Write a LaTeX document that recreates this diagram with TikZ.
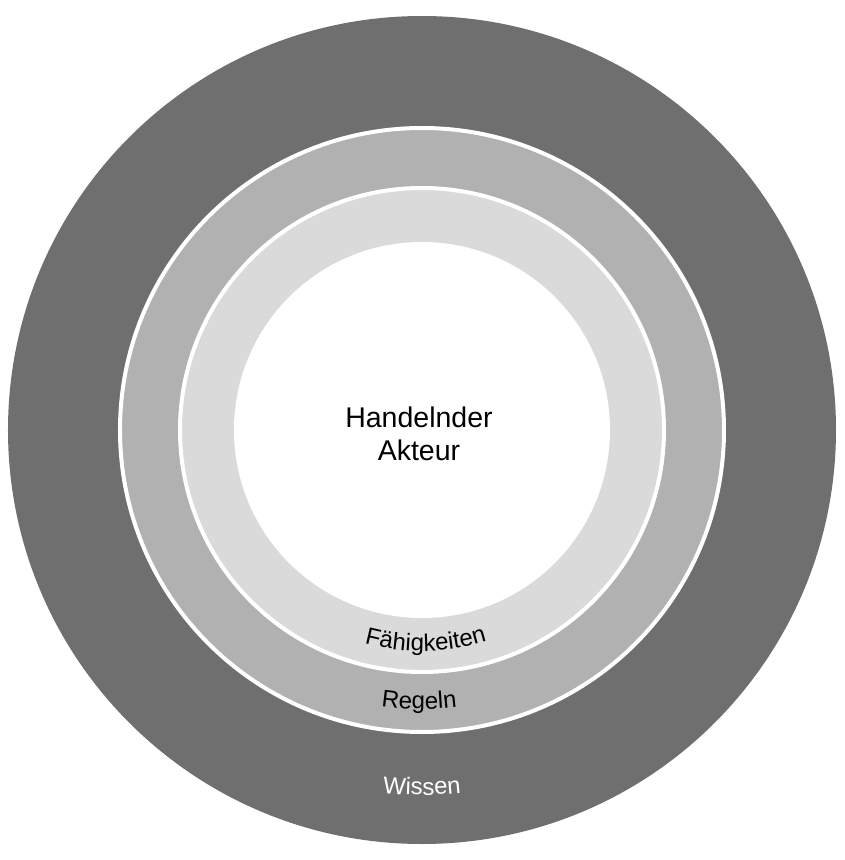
\documentclass[tikz,border=0pt]{standalone}
\usepackage{fontspec}
\setmainfont{Liberation Sans}
\usepackage{tikz}
\usetikzlibrary{decorations.text}
\definecolor{wissengray}{HTML}{6F6F6F}
\definecolor{regelngray}{HTML}{B1B1B1}
\definecolor{faehiggray}{HTML}{DADADA}
\newcommand\ringfont{\fontsize{24pt}{28pt}\selectfont}

\begin{document}
\begin{tikzpicture}[
    ring/.style = {draw=white, line width=4pt},
    ringlabel/.style = {
      decorate, decoration = {text along path, text align=center, #1},
    },
  ]
  \useasboundingbox (-422pt,-430pt) rectangle (422pt,430pt);

  % rings, outside in
  \fill[wissengray] (0,0) circle[radius=414pt];
  \draw[ring, fill=regelngray] (0,0) circle[radius=302pt];
  \draw[ring, fill=faehiggray] (0,0) circle[radius=242pt];
  \fill[white] (0,0) circle[radius=188pt];

  \node[align=center, font=\fontsize{28.5pt}{33pt}\selectfont] (akteur)
    at (-3pt,-4pt) {Handelnder\\Akteur};

  % labels along the bottom of each ring
  \path[ringlabel={text={|\ringfont|Fähigkeiten}}]
    (241:221pt) arc[start angle=241, end angle=301, radius=221pt];
  \path[ringlabel={text={|\ringfont|Regeln}}]
    (239.4:279pt) arc[start angle=239.4, end angle=299.4, radius=279pt];
  \path[ringlabel={text={|\ringfont|Wissen}, text color=white}]
    (250:365pt) arc[start angle=250, end angle=290, radius=365pt];
\end{tikzpicture}
\end{document}
